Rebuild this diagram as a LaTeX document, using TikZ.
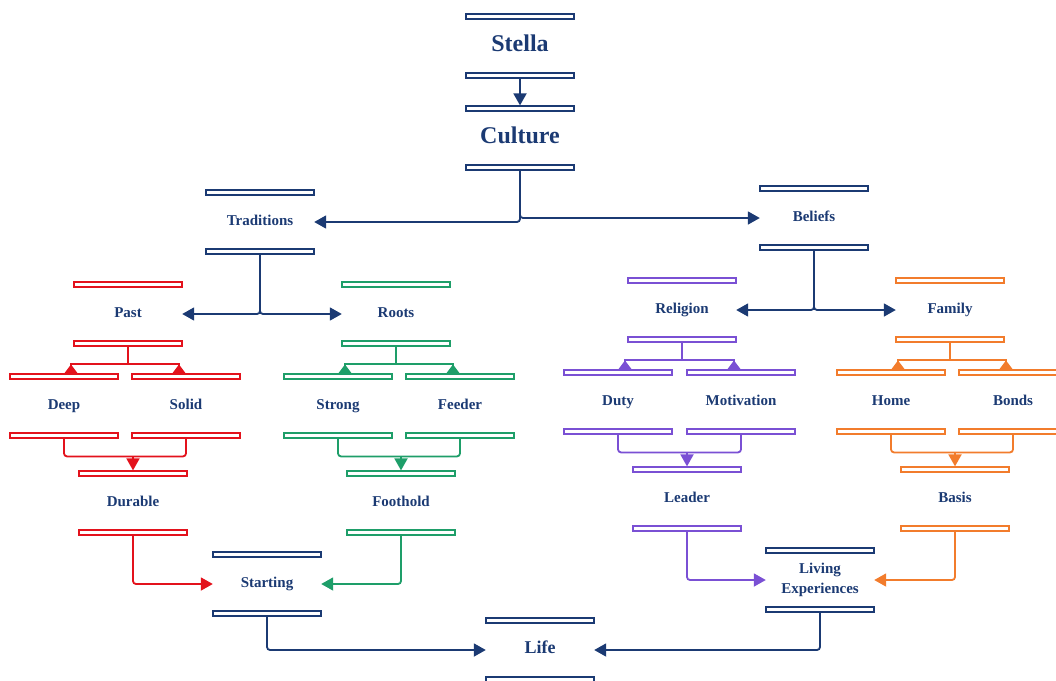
\documentclass[tikz,border=0pt]{standalone}
\usepackage{fontspec}
\setmainfont{Liberation Serif}
\usetikzlibrary{arrows.meta}
\definecolor{STNavy}{HTML}{1B3A73}
\definecolor{STRed}{HTML}{E3121C}
\definecolor{STGreen}{HTML}{1E9E69}
\definecolor{STPurple}{HTML}{7A50D4}
\definecolor{STOrange}{HTML}{F27C2C}
\tikzset{
  link/.style={line width=1.8pt,rounded corners=3pt},
  flow/.style={link,-{Triangle[length=12pt,width=13pt]}},
  fork/.style={link,sharp corners,-{Triangle[reversed,length=9pt,width=13pt]}},
  tagbase/.style={minimum width=108pt,minimum height=58pt,inner sep=0pt,text=STNavy,
              font=\fontsize{15}{20}\selectfont\bfseries,align=center},
  tag/.style={tagbase,text height=10.5pt,text depth=3pt},
  bigtag/.style={tag,font=\fontsize{24}{28}\selectfont\bfseries,text height=16pt,text depth=5pt},
  bar/.style={draw,line width=1.8pt,fill=white,minimum width=108pt,
              minimum height=5pt,inner sep=0pt},
}

\begin{document}
\begin{tikzpicture}[x=1pt,y=-1pt]
    \useasboundingbox (0,0) rectangle (1056,680);

    \node[bigtag] (stella) at (520,46) {Stella};
    \node[bigtag] (culture) at (520,138) {Culture};
    \node[tag] (traditions) at (260,222) {Traditions};
    \node[tag] (beliefs) at (814,218) {Beliefs};

    \node[tag] (past) at (128,314) {Past};
    \node[tag] (roots) at (396,314) {Roots};
    \node[tag] (religion) at (682,310) {Religion};
    \node[tag] (family) at (950,310) {Family};

    \node[tag] (deep) at (64,406) {Deep};
    \node[tag] (solid) at (186,406) {Solid};
    \node[tag] (strong) at (338,406) {Strong};
    \node[tag] (feeder) at (460,406) {Feeder};
    \node[tag] (duty) at (618,402) {Duty};
    \node[tag] (motivation) at (741,402) {Motivation};
    \node[tag] (home) at (891,402) {Home};
    \node[tag] (bonds) at (1013,402) {Bonds};

    \node[tag] (durable) at (133,503) {Durable};
    \node[tag] (foothold) at (401,503) {Foothold};
    \node[tag] (leader) at (687,499) {Leader};
    \node[tag] (basis) at (955,499) {Basis};

    \node[tag] (starting) at (267,584) {Starting};
    \node[tagbase] (living) at (820,580) {Living\\Experiences};
    \node[tag,font=\fontsize{18}{22}\selectfont\bfseries] (life) at (540,650) {Life};

    % bars above and below every label
    \foreach \n/\c in {stella/STNavy,culture/STNavy,traditions/STNavy,beliefs/STNavy,
        past/STRed,deep/STRed,solid/STRed,durable/STRed,
        roots/STGreen,strong/STGreen,feeder/STGreen,foothold/STGreen,
        religion/STPurple,duty/STPurple,motivation/STPurple,leader/STPurple,
        family/STOrange,home/STOrange,bonds/STOrange,basis/STOrange,
        starting/STNavy,living/STNavy,life/STNavy}{
      \node[bar,draw=\c] (\n-t) at (\n.north) {};
      \node[bar,draw=\c] (\n-b) at (\n.south) {};
    }

    \draw[flow,STNavy] (stella-b.south) -- (culture-t.north);
    \draw[flow,STNavy] (culture-b.south) |- (traditions.east);
    \draw[flow,STNavy] (culture-b.south) |- (beliefs.west);
    \draw[flow,STNavy] (traditions-b.south) |- (past.east);
    \draw[flow,STNavy] (traditions-b.south) |- (roots.west);
    \draw[flow,STNavy] (beliefs-b.south) |- (religion.east);
    \draw[flow,STNavy] (beliefs-b.south) |- (family.west);

    % splits
    \foreach \p/\a/\b/\c in {past/deep/solid/STRed,roots/strong/feeder/STGreen,
        religion/duty/motivation/STPurple,family/home/bonds/STOrange}{
      \draw[fork,\c] (\p-b.south) |- ([xshift=7pt,yshift=9.1pt]\a-t.north) -- ([xshift=7pt]\a-t.north);
      \draw[fork,\c] (\p-b.south) |- ([xshift=-7pt,yshift=9.1pt]\b-t.north) -- ([xshift=-7pt]\b-t.north);
    }

    % joins
    \foreach \a/\b/\m/\c in {deep/solid/durable/STRed,strong/feeder/foothold/STGreen,
        duty/motivation/leader/STPurple,home/bonds/basis/STOrange}{
      \draw[link,\c] (\a-b.south) |- ([yshift=14pt]\m-t.north) -| (\b-b.south);
      \draw[flow,\c] ([yshift=14pt]\m-t.north) -- (\m-t.north);
    }

    \draw[flow,STRed] (durable-b.south) |- (starting.west);
    \draw[flow,STGreen] (foothold-b.south) |- (starting.east);
    \draw[flow,STPurple] (leader-b.south) |- (living.west);
    \draw[flow,STOrange] (basis-b.south) |- (living.east);
    \draw[flow,STNavy] (starting-b.south) |- (life.west);
    \draw[flow,STNavy] (living-b.south) |- (life.east);
  \end{tikzpicture}
\end{document}
